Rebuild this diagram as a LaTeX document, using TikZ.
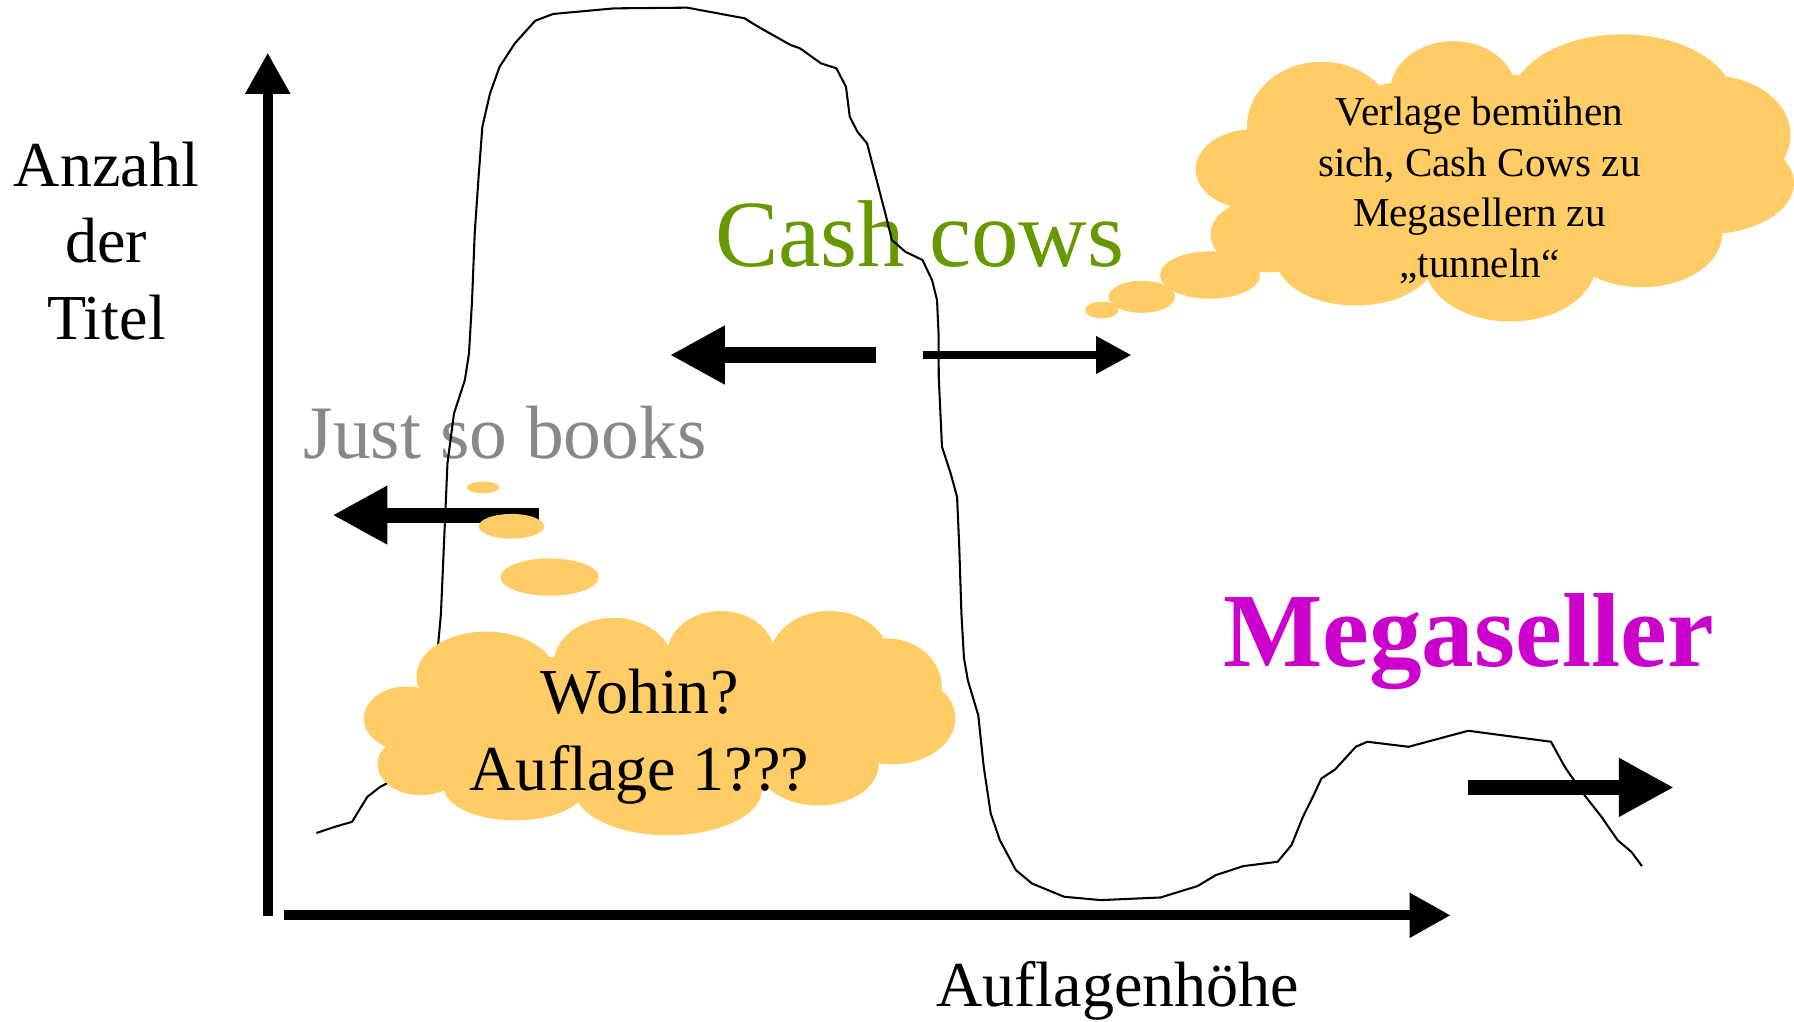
\documentclass[tikz,border=0pt]{standalone}
\usepackage{fontspec}
\setmainfont{Liberation Serif}
\usepackage{xcolor}
\usepackage{tikz}
\usetikzlibrary{arrows.meta,positioning,calc}

\definecolor{cloudcol}{RGB}{255,204,102}
\definecolor{cashgreen}{RGB}{102,153,0}
\definecolor{justgray}{RGB}{136,136,136}
\definecolor{megapink}{RGB}{204,0,204}

\begin{document}
\begin{tikzpicture}[x=0.5pt, y=-0.5pt,
    axisarrow/.style={line width=4.4pt, -{Triangle[length=18pt,width=18.5pt]}},
    bigarrow/.style={line width=6.6pt, -{Triangle[length=24pt,width=24pt]}},
    thinarrow/.style={line width=3.8pt, -{Triangle[length=15.5pt,width=15.5pt]}},
    puff/.style={fill=cloudcol},
    hump/.style={line width=0.9pt, line join=round},
    axislabel/.style={inner sep=0pt, font=\fontsize{28}{33.5}\selectfont, align=center},
    word/.style={inner sep=0pt, anchor=base}
  ]
    \useasboundingbox (0,0) rectangle (1568,893.2);

    % axes
    \coordinate (ybot) at (234,801);
    \coordinate (ytop) at (234,46);
    \coordinate (xleft) at (248,800);
    \coordinate (xright) at (1268,800);
    \draw[axisarrow] (ybot) -- (ytop);
    \draw[axisarrow] (xleft) -- (xright);
    \node[axislabel] (ytitle) at (93,210.5) {Anzahl\\der\\Titel};
    \node[word, font=\fontsize{28}{33.5}\selectfont] (xtitle) at (977,880) {Auflagenhöhe};

    % groups
    \node[word, text=cashgreen, font=\fontsize{41.5}{48}\selectfont] (cash) at (804,233) {Cash cows};
    \node[word, text=justgray, font=\fontsize{33}{38}\selectfont] (just) at (441.5,400.7) {Just so books};
    \node[word, text=megapink, font=\bfseries\fontsize{46}{52}\selectfont] (mega) at (1283.5,582.7) {Megaseller};

    % movements
    \coordinate (cl-tail) at (765.5,310.3);
    \coordinate (cl-tip) at (585.5,310.3);
    \coordinate (cr-tail) at (807,310.3);
    \coordinate (cr-tip) at (989,310.3);
    \coordinate (js-tail) at (470.7,450.2);
    \coordinate (js-tip) at (290.6,450.2);
    \coordinate (mg-tail) at (1283.3,688.2);
    \coordinate (mg-tip) at (1463,688.2);
    \draw[bigarrow] (cl-tail) -- (cl-tip);
    \draw[thinarrow] (cr-tail) -- (cr-tip);
    \draw[bigarrow] (js-tail) -- (js-tip);
    \draw[bigarrow] (mg-tail) -- (mg-tip);

    % distribution curve
    \draw[hump] plot coordinates {(276.6,728) (292.5,722.7) (307.7,718.3) (321,696.5) (332.3,687.7) (338,684.8)
      (355,655) (372,610) (382.8,565.3) (385.4,536.2) (387.3,492.5) (389.2,448.8) (391.1,405) (396.8,361.3)
      (406.3,332.2) (409.9,308.9) (412.6,262.3) (414.9,204) (418.3,154.4) (421.6,110.7) (428.3,81.6)
      (436.7,58.3) (450,37.9) (467.8,18.1) (483.5,12.2) (537,7.3) (600.6,6.7) (650.8,16) (662.5,23.3)
      (690.9,39.3) (699.3,42.3) (717.6,55.4) (731,59.7) (739.4,75.8) (742.7,102) (749.4,115.1) (757.8,125.3)
      (766.2,157.4) (774.5,189.4) (779.5,209.8) (791.2,220) (806.3,227.3) (814.6,244.8) (819,262.3)
      (820.3,291.4) (820.5,330) (823.3,390.5) (830.9,413.8) (836.5,434.2) (838.4,477.9) (840.3,536.2)
      (842.5,575) (846,595) (855,625) (859.8,670.2) (865.9,711) (873.9,734.3) (887.9,760.5) (902,772.2)
      (930.1,783.8) (962.2,786.7) (1014.4,784.4) (1046.5,774.5) (1062.5,764.9) (1086.6,757) (1116.7,753.2)
      (1128.8,738.6) (1138.8,713.9) (1148.9,693.5) (1154.9,680.4) (1166.9,672.5) (1185,652.7) (1195,648.3)
      (1231.1,652.7) (1283.3,638.7) (1355.6,648.3) (1367.6,670.2) (1383.7,693.5) (1399.7,713.9)
      (1413.8,734.3) (1425.8,744.5) (1435.1,757)};

    % thought cloud, lower left
    \foreach \cx/\cy/\rx/\ry in {422.2/426/14.2/5.1, 447/460/28.6/10.8, 480.4/504.4/43/16.3}
      \fill[puff] (\cx,\cy) ellipse [x radius=\rx, y radius=\ry];
    \foreach \cx/\cy/\rx/\ry in {425/591/61/39, 536/580/52/40, 630/572/47/38, 725/575/52/41,
        775/600/48/42, 780/628/55/40, 715/668/53/36, 584/690/82/40, 450/688/62/29,
        368/668/38/27, 355/628/37/28, 575/630/215/62}
      \fill[puff] (\cx,\cy) ellipse [x radius=\rx, y radius=\ry];
    \node[axislabel] (wohin) at (559,643.9) {Wohin?\\Auflage 1???};

    % thought cloud, upper right
    \foreach \cx/\cy/\rx/\ry in {963/271/14.6/7.3, 998/259.4/29/14, 1057.6/240.4/43.7/20.7}
      \fill[puff] (\cx,\cy) ellipse [x radius=\rx, y radius=\ry];
    \foreach \cx/\cy/\rx/\ry in {1095/148/50/35, 1155/110/65/56, 1270/80/55/44, 1418/90/98/60,
        1495/118/70/52, 1490/160/78/45, 1435/205/70/46, 1320/230/75/51, 1185/225/70/42,
        1110/205/52/33, 1300/155/210/90}
      \fill[puff] (\cx,\cy) ellipse [x radius=\rx, y radius=\ry];
    \node[inner sep=0pt, align=center, font=\fontsize{18}{22.1}\selectfont] (verlage) at (1293,166.5)
      {Verlage bemühen\\sich, Cash Cows zu\\Megasellern zu\\„tunneln“};
\end{tikzpicture}
\end{document}
